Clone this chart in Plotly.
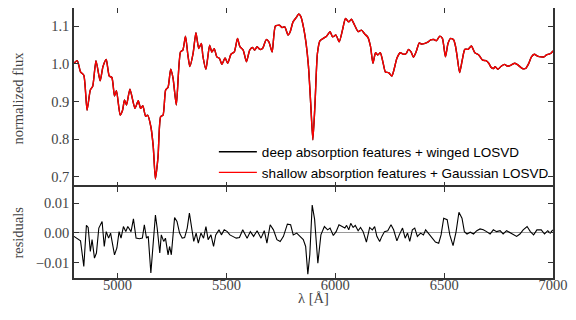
import plotly.graph_objects as go

# ---- data ----
wave = [4800, 4815, 4830, 4845, 4860, 4875, 4886, 4901, 4920, 4933, 4948, 4962, 4974, 4986, 4995,
        5012, 5023, 5032, 5041, 5057, 5080, 5095, 5106, 5116, 5129, 5138, 5153, 5164, 5174, 5186,
        5198, 5209, 5221, 5232, 5244, 5255, 5270, 5289, 5300, 5312, 5323, 5332, 5347, 5360, 5373,
        5385, 5392, 5406, 5423, 5433, 5444, 5456, 5468, 5479, 5494, 5506, 5521, 5536, 5551, 5562,
        5577, 5592, 5607, 5620, 5630, 5641, 5653, 5666, 5683, 5695, 5710, 5725, 5744, 5756, 5768,
        5783, 5793, 5806, 5821, 5832, 5842, 5855, 5866, 5877, 5888, 5897, 5907, 5918, 5930, 5945,
        5960, 5976, 5988, 6003, 6018, 6033, 6047, 6062, 6074, 6089, 6105, 6120, 6135, 6150, 6162,
        6173, 6185, 6195, 6207, 6220, 6230, 6245, 6260, 6271, 6283, 6298, 6314, 6326, 6336, 6348,
        6359, 6371, 6386, 6397, 6412, 6427, 6438, 6453, 6465, 6480, 6492, 6506, 6518, 6530, 6544,
        6553, 6560, 6571, 6583, 6595, 6610, 6625, 6641, 6659, 6677, 6692, 6705, 6716, 6727, 6734,
        6747, 6762, 6777, 6792, 6807, 6825, 6840, 6859, 6874, 6889, 6901, 6914, 6929, 6944, 6959,
        6970, 6980, 6989, 7000]
flux_winged = [1.002, 1.009, 0.979, 0.970, 0.877, 0.931, 0.941, 1.009, 0.955, 0.993, 1.012, 0.968, 0.964, 0.915, 0.929,
               0.864, 0.877, 0.904, 0.891, 0.933, 0.882, 0.902, 0.882, 0.889, 0.861, 0.864, 0.833, 0.780, 0.694, 0.753,
               0.860, 0.864, 0.931, 0.938, 0.986, 0.962, 0.891, 1.032, 1.037, 1.074, 1.024, 0.993, 1.028, 1.083, 1.041,
               1.055, 1.021, 0.986, 1.050, 1.032, 1.041, 1.019, 1.015, 0.999, 1.016, 1.002, 1.026, 1.032, 1.068, 1.046,
               1.037, 1.006, 1.037, 1.044, 1.037, 1.046, 1.039, 1.041, 1.065, 1.059, 1.032, 1.101, 1.103, 1.097, 1.099,
               1.077, 1.086, 1.112, 1.124, 1.133, 1.126, 1.095, 1.055, 0.993, 0.886, 0.798, 0.895, 1.028, 1.062, 1.068,
               1.074, 1.086, 1.072, 1.077, 1.059, 1.090, 1.121, 1.112, 1.119, 1.103, 1.086, 1.090, 1.080, 1.071, 1.046,
               1.002, 1.030, 1.024, 1.030, 1.002, 0.979, 0.977, 0.968, 0.988, 1.015, 1.030, 1.026, 1.028, 1.039, 1.032,
               1.018, 1.032, 1.056, 1.053, 1.055, 1.059, 1.064, 1.065, 1.062, 1.074, 1.068, 1.019, 1.055, 1.068, 1.064,
               1.045, 1.019, 0.977, 1.010, 1.039, 1.039, 1.048, 1.030, 1.024, 1.010, 1.009, 1.002, 0.991, 0.988, 0.993,
               0.986, 0.994, 0.999, 0.994, 0.997, 1.002, 0.997, 0.988, 0.988, 1.002, 1.019, 1.026, 1.021, 1.019, 1.019,
               1.024, 1.026, 1.028, 1.035]
flux_gauss = list(flux_winged)  # the two fits overlap at this scale

res_wave = [4800, 4815, 4830, 4845, 4857, 4865, 4875, 4883, 4894, 4903, 4914, 4929, 4939, 4948, 4959,
            4968, 4977, 4986, 4997, 5007, 5016, 5027, 5038, 5047, 5062, 5073, 5085, 5100, 5114, 5123,
            5133, 5141, 5153, 5164, 5174, 5182, 5194, 5201, 5212, 5220, 5232, 5239, 5247, 5262, 5273,
            5285, 5297, 5308, 5320, 5330, 5341, 5350, 5361, 5371, 5383, 5395, 5406, 5416, 5429, 5441,
            5451, 5466, 5477, 5490, 5504, 5516, 5529, 5545, 5560, 5575, 5595, 5610, 5625, 5641, 5659,
            5674, 5686, 5701, 5716, 5732, 5747, 5762, 5780, 5795, 5807, 5823, 5838, 5853, 5864, 5874,
            5883, 5894, 5905, 5920, 5934, 5950, 5965, 5976, 5991, 6004, 6017, 6029, 6044, 6052, 6062,
            6071, 6082, 6092, 6105, 6116, 6128, 6143, 6158, 6170, 6181, 6191, 6204, 6214, 6226, 6241,
            6256, 6268, 6283, 6294, 6309, 6321, 6332, 6342, 6354, 6365, 6377, 6392, 6405, 6415, 6430,
            6445, 6460, 6475, 6486, 6498, 6514, 6526, 6541, 6555, 6568, 6582, 6593, 6605, 6620, 6635,
            6650, 6665, 6680, 6695, 6711, 6726, 6741, 6757, 6771, 6787, 6802, 6817, 6833, 6848, 6863,
            6881, 6896, 6911, 6926, 6946, 6961, 6976, 6987, 6999]
residuals = [-0.0012, -0.0020, -0.0027, -0.0113, 0.0025, 0.0018, -0.0063, -0.0023, -0.0085, -0.0068, 0.0016, 0.0038, -0.0046, 0.0004, -0.0018,
             -0.0001, -0.0035, -0.0074, -0.0051, 0.0004, -0.0018, 0.0021, 0.0004, 0.0021, 0.0004, 0.0047, -0.0018, -0.0020, -0.0018, 0.0027,
             -0.0018, -0.0012, -0.0135, -0.0035, 0.0060, 0.0016, -0.0068, -0.0007, -0.0029, -0.0018, -0.0074, -0.0046, -0.0074, 0.0051, 0.0038,
             -0.0001, -0.0018, -0.0016, 0.0016, 0.0066, 0.0010, -0.0029, -0.0001, -0.0035, -0.0001, -0.0018, 0.0021, -0.0023, -0.0007, -0.0046,
             -0.0007, 0.0010, -0.0007, 0.0010, 0.0004, -0.0007, -0.0012, -0.0018, -0.0016, 0.0010, -0.0018, 0.0004, -0.0012, 0.0007, -0.0018,
             0.0007, -0.0035, 0.0027, 0.0010, -0.0023, -0.0029, -0.0012, 0.0029, 0.0027, -0.0007, -0.0001, -0.0012, -0.0023, -0.0046, -0.0139,
             -0.0074, 0.0093, 0.0046, -0.0102, -0.0007, 0.0021, 0.0010, 0.0016, -0.0009, 0.0004, 0.0027, 0.0021, 0.0016, 0.0025, 0.0010,
             0.0032, 0.0018, 0.0025, 0.0007, 0.0018, 0.0004, -0.0031, 0.0018, 0.0010, 0.0021, -0.0012, -0.0029, -0.0012, 0.0004, 0.0007,
             0.0027, 0.0010, -0.0027, -0.0007, 0.0016, -0.0018, -0.0001, -0.0029, 0.0010, 0.0016, -0.0012, -0.0001, -0.0007, 0.0010, -0.0004,
             -0.0018, -0.0031, -0.0035, -0.0007, 0.0049, 0.0044, -0.0007, -0.0043, 0.0004, 0.0069, 0.0049, 0.0004, -0.0004, 0.0002, -0.0004,
             0.0007, 0.0013, 0.0010, 0.0004, -0.0004, 0.0010, 0.0004, 0.0007, -0.0004, 0.0007, 0.0001, -0.0004, -0.0012, -0.0004, 0.0010,
             0.0021, 0.0004, -0.0007, 0.0010, 0.0010, -0.0004, 0.0007, -0.0001, 0.0010]

x_ticks = [5000, 5500, 6000, 6500, 7000]
flux_ticks = [0.7, 0.8, 0.9, 1.0, 1.1]
res_ticks = [-0.01, 0.0, 0.01]

name_winged = "deep absorption features + winged LOSVD"
name_gauss = "shallow absorption features + Gaussian LOSVD"

# ---- figure ----
SERIF = "Liberation Serif, DejaVu Serif, serif"
SANS = "Liberation Sans, Arial, sans-serif"
AX = "#333333"
TXT = "#444444"

fig = go.Figure()
fig.add_trace(go.Scatter(x=wave, y=flux_winged, mode="lines", name=name_winged,
                         line=dict(color="black", width=1.4, shape="spline", smoothing=0.6),
                         xaxis="x", yaxis="y"))
fig.add_trace(go.Scatter(x=wave, y=flux_gauss, mode="lines", name=name_gauss,
                         line=dict(color="#ff0000", width=1.4, shape="spline", smoothing=0.6),
                         xaxis="x", yaxis="y"))
fig.add_trace(go.Scatter(x=res_wave, y=residuals, mode="lines", showlegend=False,
                         line=dict(color="black", width=1.1),
                         xaxis="x2", yaxis="y2"))

split = 0.337
common_x = dict(range=[4800, 7000], tickvals=x_ticks, ticks="inside", ticklen=5, tickwidth=1,
                tickcolor=AX, linecolor=AX, linewidth=1.5, mirror="ticks",
                showgrid=False, zeroline=False,
                tickfont=dict(family=SERIF, size=14.5, color=TXT))
common_y = dict(ticks="inside", ticklen=5, tickwidth=1, tickcolor=AX, showline=True,
                linecolor=AX, linewidth=1.5, mirror="ticks", showgrid=False,
                tickfont=dict(family=SERIF, size=14.5, color=TXT))

fig.update_layout(
    width=576, height=320,
    margin=dict(l=74, r=18, t=8, b=42),
    paper_bgcolor="white", plot_bgcolor="white",
    xaxis=dict(domain=[0, 1], anchor="y", showticklabels=False, matches="x2",
               showline=False, **common_x),
    xaxis2=dict(domain=[0, 1], anchor="y2", showline=True, ticklabelstandoff=-7, **common_x),
    yaxis=dict(domain=[split, 1], anchor="x", range=[0.6726, 1.149], tickvals=flux_ticks,
               tickformat=".1f", zeroline=False, **common_y),
    yaxis2=dict(domain=[0, split], anchor="x2", range=[-0.0152, 0.0154], tickvals=res_ticks,
                tickformat=".2f", zeroline=True, zerolinecolor="#9a9a9a", zerolinewidth=1,
                **common_y),
    showlegend=True,
    legend=dict(x=0.292, y=0.524, xanchor="left", yanchor="top", bgcolor="rgba(0,0,0,0)",
                itemwidth=38,
                font=dict(family=SANS, size=13.5, color="black"), tracegroupgap=0),
    annotations=[
        dict(text="normalized flux", xref="paper", yref="paper", x=-0.117, y=0.668,
             xanchor="center", yanchor="middle", textangle=-90, showarrow=False,
             font=dict(family=SERIF, size=14.5, color=TXT)),
        dict(text="residuals", xref="paper", yref="paper", x=-0.117, y=0.168,
             xanchor="center", yanchor="middle", textangle=-90, showarrow=False,
             font=dict(family=SERIF, size=14.5, color=TXT)),
        dict(text="λ [Å]", xref="paper", yref="paper", x=0.5, y=-0.074,
             xanchor="center", yanchor="middle", showarrow=False,
             font=dict(family=SERIF, size=14.5, color=TXT)),
    ],
)

fig.write_html("out.html")
